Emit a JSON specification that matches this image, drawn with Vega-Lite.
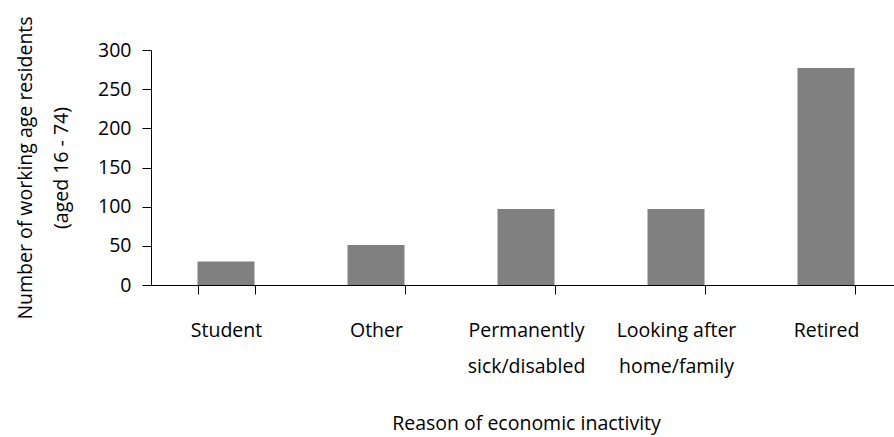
{
  "$schema": "https://vega.github.io/schema/vega-lite/v6.json",
  "autosize": {"type": "none"},
  "padding": {"left": 151, "top": 50, "right": 0, "bottom": 152},
  "width": 750,
  "height": 235,
  "background": "white",
  "data": {"values": [
    {"reason": "Student", "count": 30},
    {"reason": "Other", "count": 51},
    {"reason": "Permanently|sick/disabled", "count": 97},
    {"reason": "Looking after|home/family", "count": 97},
    {"reason": "Retired", "count": 277}
  ]},
  "mark": {"type": "bar", "color": "#808080"},
  "encoding": {
    "x": {
      "field": "reason", "type": "nominal", "sort": null,
      "scale": {"paddingInner": 0.62, "paddingOuter": 0.31},
      "axis": {
        "title": "Reason of economic inactivity",
        "labelAngle": 0,
        "labelExpr": "split(datum.label, '|')",
        "tickBand": "extent",
        "tickSize": 9,
        "labelPadding": 27,
        "labelLineHeight": 36.5,
        "titlePadding": 38
      }
    },
    "y": {
      "field": "count", "type": "quantitative",
      "scale": {"domain": [0, 300]},
      "axis": {
        "title": ["Number of working age residents", "(aged 16 - 74)"],
        "values": [0, 50, 100, 150, 200, 250, 300],
        "tickSize": 9,
        "labelPadding": 11,
        "grid": false,
        "titlePadding": 26,
        "titleLineHeight": 36.5
      }
    }
  },
  "config": {
    "view": {"stroke": null},
    "font": "Open Sans",
    "axis": {
      "domainColor": "#000000",
      "tickColor": "#000000",
      "labelColor": "#000000",
      "titleColor": "#000000",
      "labelFont": "Open Sans",
      "titleFont": "Open Sans",
      "labelFontSize": 19.5,
      "titleFontSize": 19.5,
      "titleFontWeight": "normal",
      "domainWidth": 1,
      "tickWidth": 1
    }
  }
}
